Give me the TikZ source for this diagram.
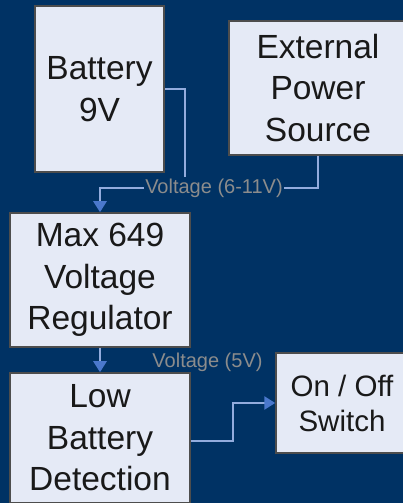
\documentclass[tikz,border=0pt]{standalone}
\usepackage{fontspec}
\setmainfont{Liberation Sans}
\usepackage{xcolor}
\usepackage{tikz}
\usetikzlibrary{arrows.meta}
\definecolor{PSBack}{HTML}{003264}
\definecolor{PSBox}{HTML}{E5EAF6}
\definecolor{PSEdge}{HTML}{4D4D4D}
\definecolor{PSWire}{HTML}{93ACDD}
\definecolor{PSTip}{HTML}{4A78CC}
\definecolor{PSLabel}{HTML}{8C8C8C}

\begin{document}
\begin{tikzpicture}[x=1pt,y=1pt,
  block/.style={draw=PSEdge,fill=PSBox,line width=1.5pt,inner sep=0pt,align=center,text=black!90,font=\fontsize{33.5}{41.5}\selectfont},
  wire/.style={PSWire,line width=2.6pt},
  tipwire/.style={wire,-{Triangle[width=13pt,length=11pt,color=PSTip]}},
  vlabel/.style={text=PSLabel,inner sep=1pt,font=\fontsize{20}{24}\selectfont}]
\path[use as bounding box] (0,0) rectangle (403,503);
\clip (0,0) rectangle (403,503);
\fill[PSBack] (0,0) rectangle (403,503);
\node[block,minimum width=129pt,minimum height=166pt] (bat) at (99.5,414) {Battery\\9V};
\node[block,minimum width=178pt,minimum height=134pt] (ext) at (318,415) {External\\Power\\Source};
\node[block,minimum width=180pt,minimum height=134pt] (max) at (100,223) {Max 649\\Voltage\\Regulator};
\node[block,minimum width=180pt,minimum height=130pt] (low) at (100,65) {Low\\Battery\\Detection};
\node[block,minimum width=132pt,minimum height=100pt,font=\fontsize{29.5}{35}\selectfont] (sw) at (342,100) {On / Off\\Switch};
\node[vlabel] (v611) at (214,315) {Voltage (6-11V)};
\node[vlabel] (v5) at (207.5,141) {Voltage (5V)};
\coordinate (j1) at (185,326);
\coordinate (bend) at (233,62);
\draw[wire] (bat.east) -| (j1);
\draw[wire] (ext.south) |- (v611.east);
\draw[tipwire] (v611.west) -| (max.north);
\draw[tipwire] (max.south) -- (low.north);
\draw[tipwire] (low.east |- bend) -- (bend) |- (sw.west);
\end{tikzpicture}
\end{document}
